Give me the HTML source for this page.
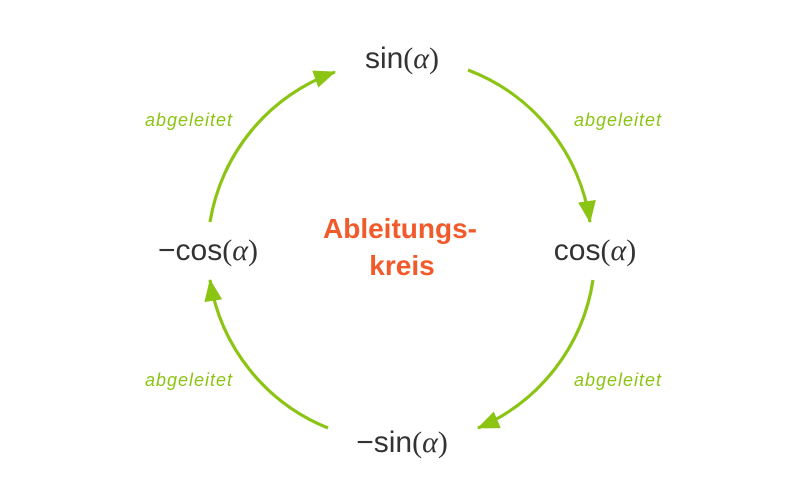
<!DOCTYPE html>
<html><head><meta charset="utf-8"><style>
html,body{margin:0;padding:0;background:#fff;}
svg{display:block}
.t{font-family:"Liberation Sans",sans-serif;font-size:30px;fill:#333;}
.a{font-family:"Liberation Serif",serif;}
.al{font-family:"Liberation Serif",serif;font-style:italic;}
.g{font-family:"Liberation Sans",sans-serif;font-style:italic;font-size:18px;letter-spacing:1px;fill:#8cc414;}
.o{font-family:"Liberation Sans",sans-serif;font-weight:bold;font-size:28px;fill:#f15a2b;}
</style></head><body>
<svg width="804" height="503" viewBox="0 0 804 503" xmlns="http://www.w3.org/2000/svg">
<defs><marker id="m" markerUnits="userSpaceOnUse" markerWidth="22" markerHeight="18" refX="21" refY="9" orient="auto"><path d="M0,0 L22,9 L0,18 Z" fill="#8cc414"/></marker></defs>
<g fill="none" stroke="#8cc414" stroke-width="3.2" marker-end="url(#m)">
<path d="M468,70 A192,192 0 0 1 590,222"/>
<path d="M593,280 A192,192 0 0 1 478,428"/>
<path d="M328,428 A192,192 0 0 1 210,280"/>
<path d="M210,222 A192,192 0 0 1 335,72"/>
</g>
<text class="t" x="402" y="68" text-anchor="middle">sin<tspan class="a">(</tspan><tspan class="al">α</tspan><tspan class="a">)</tspan></text>
<text class="t" x="595" y="260" text-anchor="middle">cos<tspan class="a">(</tspan><tspan class="al">α</tspan><tspan class="a">)</tspan></text>
<text class="t" x="208" y="260" text-anchor="middle">−cos<tspan class="a">(</tspan><tspan class="al">α</tspan><tspan class="a">)</tspan></text>
<text class="t" x="402" y="452" text-anchor="middle">−sin<tspan class="a">(</tspan><tspan class="al">α</tspan><tspan class="a">)</tspan></text>
<text class="o" x="400" y="238" text-anchor="middle">Ableitungs-</text>
<text class="o" x="402" y="275" text-anchor="middle">kreis</text>
<text class="g" x="189" y="126" text-anchor="middle">abgeleitet</text>
<text class="g" x="618" y="126" text-anchor="middle">abgeleitet</text>
<text class="g" x="189" y="386" text-anchor="middle">abgeleitet</text>
<text class="g" x="618" y="386" text-anchor="middle">abgeleitet</text>
</svg>
</body></html>
